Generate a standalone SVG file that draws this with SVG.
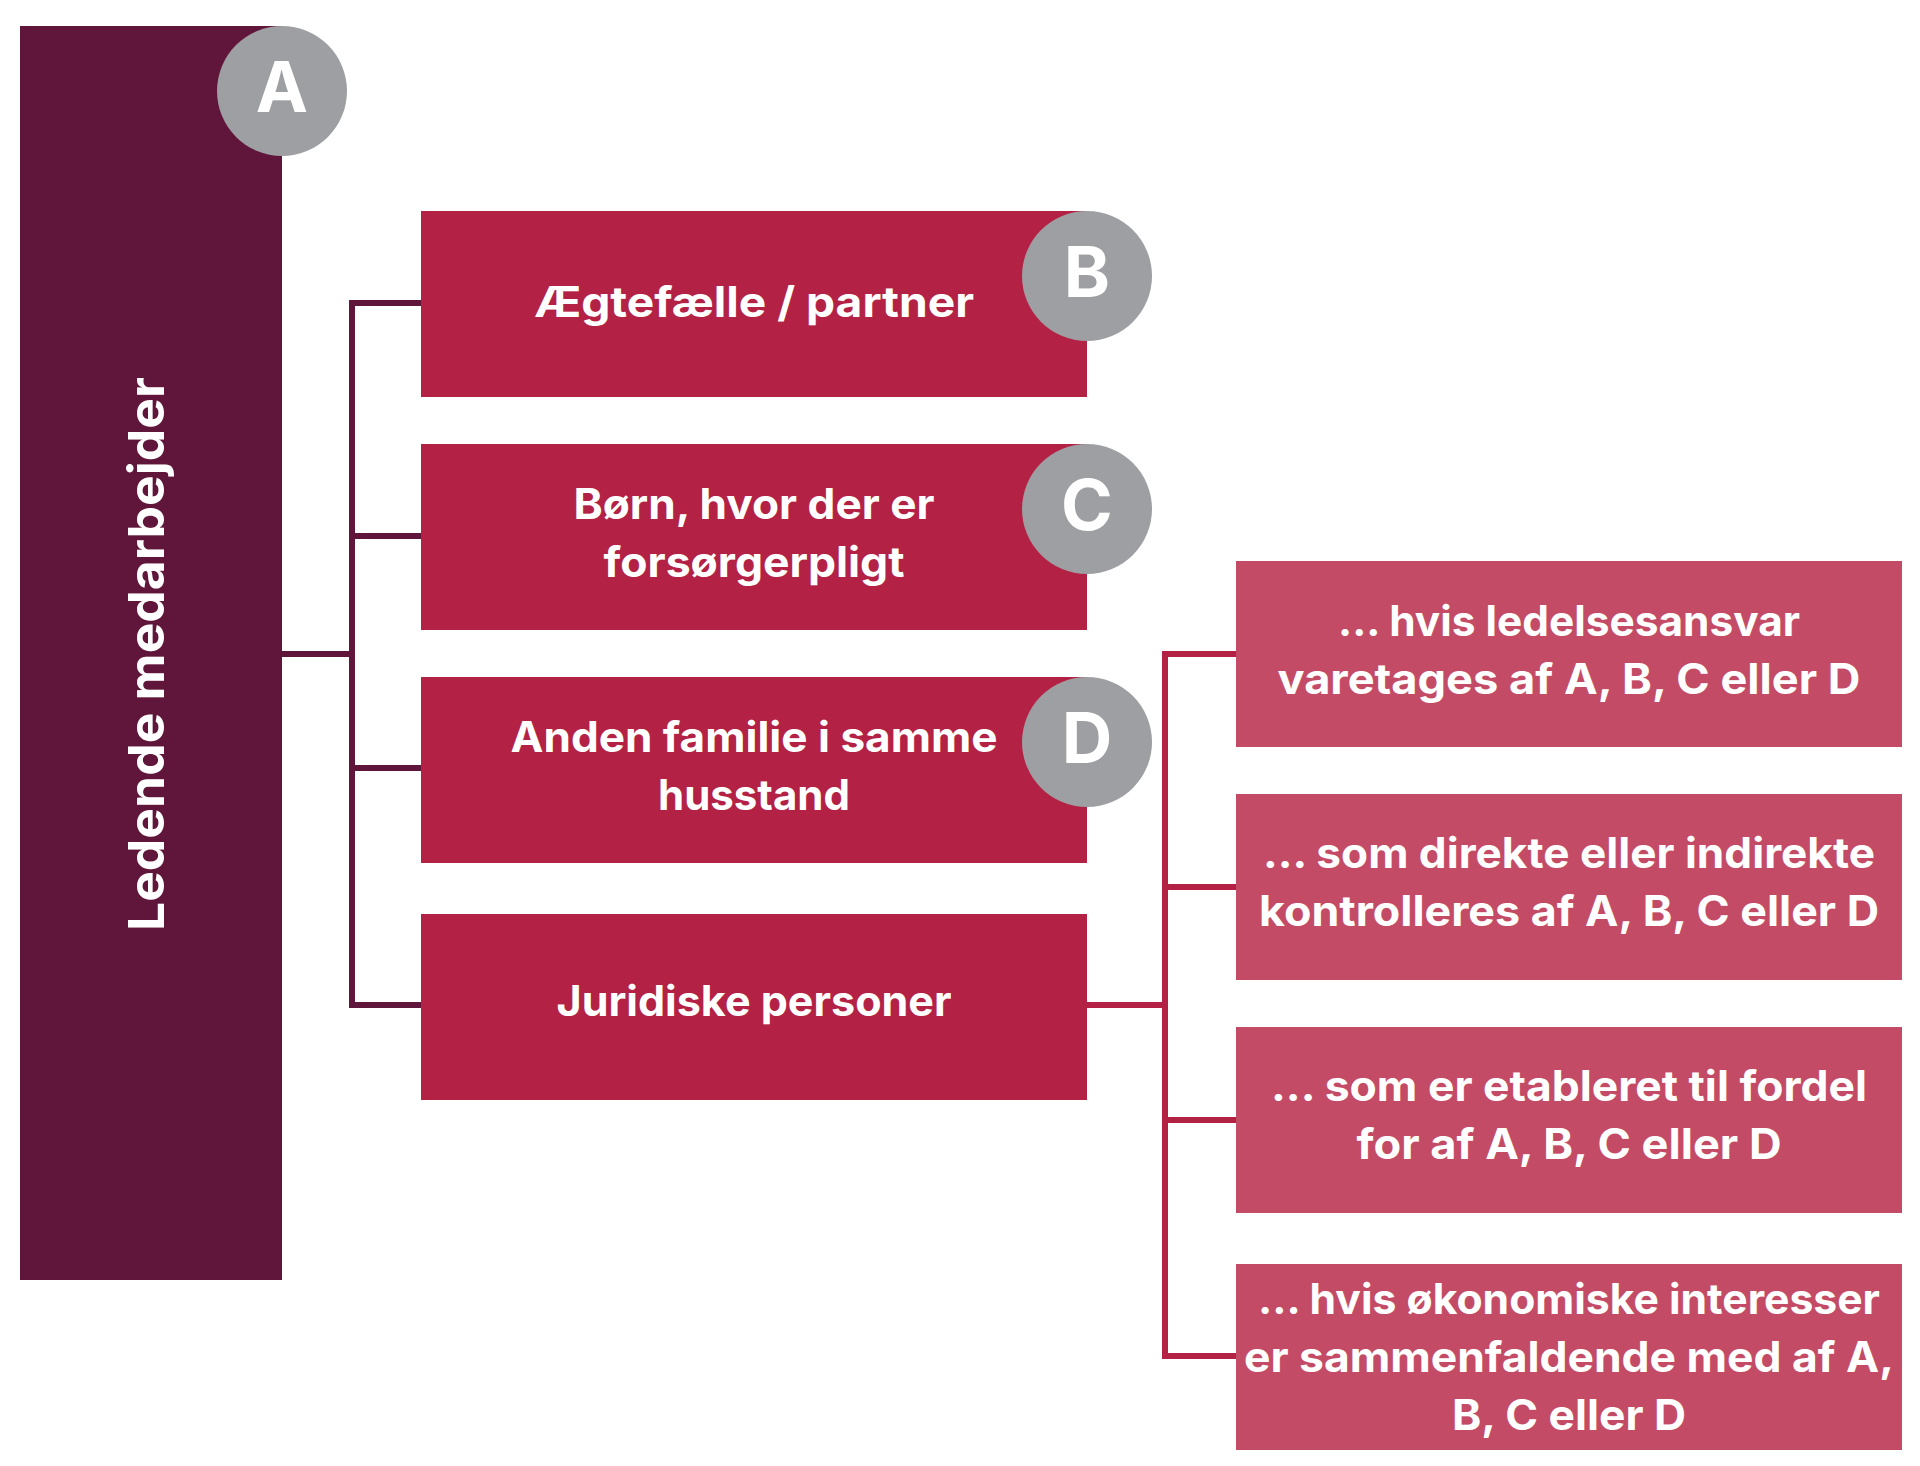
<svg xmlns="http://www.w3.org/2000/svg" width="1920" height="1466" viewBox="0 0 1920 1466">
<style>
.dark{fill:#60163A}
.mid{fill:#B32145}
.right{fill:#C44B66}
.badge{fill:#9D9FA2}
.t{font-family:Inter,"Open Sans","Liberation Sans",sans-serif;font-weight:700;fill:#FFFFFF;font-size:42px;text-anchor:middle}
.big{font-size:50px}
.letter{font-family:Inter,"Open Sans","Liberation Sans",sans-serif;font-weight:700;fill:#FFFFFF;font-size:70px;text-anchor:middle}
.c1{fill:none;stroke:#60163A;stroke-width:6}
.c2{fill:none;stroke:#B32145;stroke-width:6}
</style>
<rect width="1920" height="1466" fill="#FFFFFF"/>
<g id="connectors">
<path class="c1" d="M282,654 H352 M421,303 H352 V1005 H421 M352,536 H421 M352,768 H421"/>
<path class="c2" d="M1087,1005 H1165 M1236,654 H1165 V1356 H1236 M1165,887 H1236 M1165,1120 H1236"/>
</g>
<g id="node-a">
<rect class="dark" x="20" y="26" width="262" height="1254"/>
<text class="t big" transform="translate(164,654) rotate(-90)" textLength="554" lengthAdjust="spacingAndGlyphs">Ledende medarbejder</text>
<circle class="badge" cx="282" cy="91" r="65"/>
<text class="letter" x="282" y="112">A</text>
</g>
<g id="node-b">
<rect class="mid" x="421" y="211" width="666" height="186"/>
<text class="t" x="754" y="317" textLength="440" lengthAdjust="spacingAndGlyphs">Ægtefælle / partner</text>
<circle class="badge" cx="1087" cy="276" r="65"/>
<text class="letter" x="1087" y="297">B</text>
</g>
<g id="node-c">
<rect class="mid" x="421" y="444" width="666" height="186"/>
<text class="t" x="754" y="519" textLength="361" lengthAdjust="spacingAndGlyphs">Børn, hvor der er</text>
<text class="t" x="754" y="577" textLength="301" lengthAdjust="spacingAndGlyphs">forsørgerpligt</text>
<circle class="badge" cx="1087" cy="509" r="65"/>
<text class="letter" x="1087" y="530">C</text>
</g>
<g id="node-d">
<rect class="mid" x="421" y="677" width="666" height="186"/>
<text class="t" x="754" y="752" textLength="487" lengthAdjust="spacingAndGlyphs">Anden familie i samme</text>
<text class="t" x="754" y="810" textLength="192" lengthAdjust="spacingAndGlyphs">husstand</text>
<circle class="badge" cx="1087" cy="742" r="65"/>
<text class="letter" x="1087" y="763">D</text>
</g>
<g id="node-juridiske">
<rect class="mid" x="421" y="914" width="666" height="186"/>
<text class="t" x="754" y="1016" textLength="395" lengthAdjust="spacingAndGlyphs">Juridiske personer</text>
</g>
<g id="node-r1">
<rect class="right" x="1236" y="561" width="666" height="186"/>
<text class="t" x="1569" y="636" textLength="462" lengthAdjust="spacingAndGlyphs">... hvis ledelsesansvar</text>
<text class="t" x="1569" y="694" textLength="583" lengthAdjust="spacingAndGlyphs">varetages af A, B, C eller D</text>
</g>
<g id="node-r2">
<rect class="right" x="1236" y="794" width="666" height="186"/>
<text class="t" x="1569" y="868" textLength="612" lengthAdjust="spacingAndGlyphs">... som direkte eller indirekte</text>
<text class="t" x="1569" y="926" textLength="620" lengthAdjust="spacingAndGlyphs">kontrolleres af A, B, C eller D</text>
</g>
<g id="node-r3">
<rect class="right" x="1236" y="1027" width="666" height="186"/>
<text class="t" x="1569" y="1101" textLength="596" lengthAdjust="spacingAndGlyphs">... som er etableret til fordel</text>
<text class="t" x="1569" y="1159" textLength="425" lengthAdjust="spacingAndGlyphs">for af A, B, C eller D</text>
</g>
<g id="node-r4">
<rect class="right" x="1236" y="1264" width="666" height="186"/>
<text class="t" x="1569" y="1314" textLength="622" lengthAdjust="spacingAndGlyphs">... hvis økonomiske interesser</text>
<text class="t" x="1569" y="1372" textLength="650" lengthAdjust="spacingAndGlyphs">er sammenfaldende med af A,</text>
<text class="t" x="1569" y="1430" textLength="234" lengthAdjust="spacingAndGlyphs">B, C eller D</text>
</g>
</svg>
